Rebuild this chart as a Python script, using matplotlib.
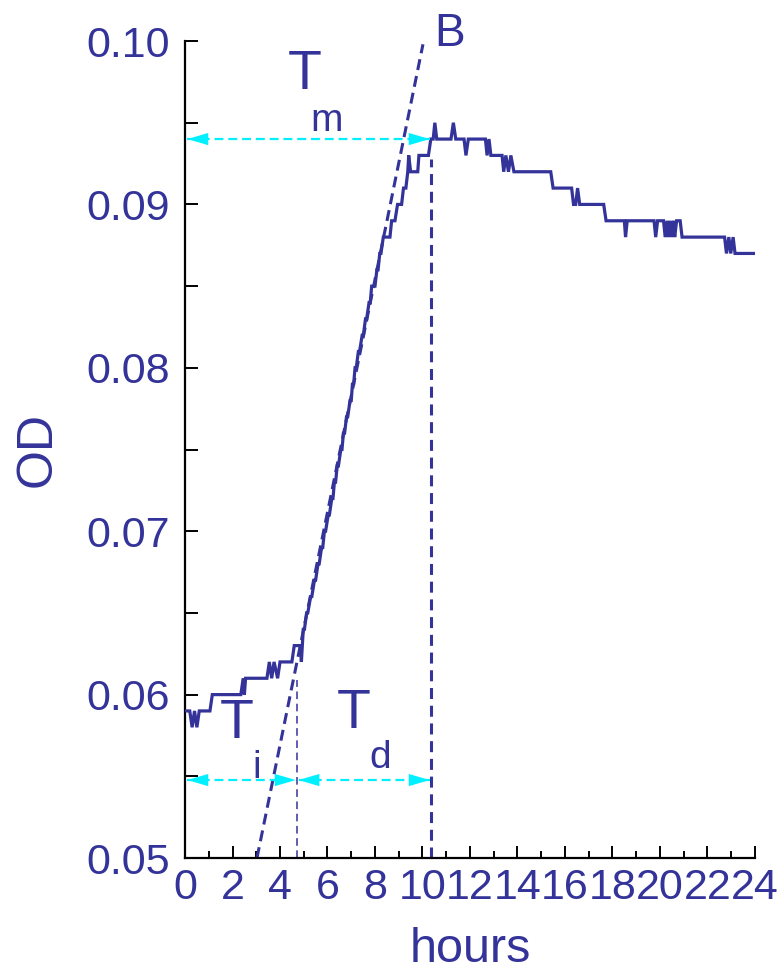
import matplotlib
matplotlib.use('Agg')
import matplotlib.pyplot as plt
from matplotlib.ticker import MultipleLocator, FormatStrFormatter

plt.rcParams['font.family'] = ['Liberation Sans', 'DejaVu Sans']

BLUE = '#333399'
CYAN = '#00f0ff'

# ---- measured OD readings (hours, OD) ----
hours = [0.0, 0.2, 0.3, 0.4, 0.5, 0.6, 1.05, 1.15, 2.35, 2.45, 2.5, 2.55,
         3.45, 3.55, 3.65, 3.75, 3.9, 4.0, 4.5, 4.6, 4.85, 4.9,
         4.98, 5.03, 5.12, 5.17, 5.29, 5.34, 5.45, 5.5, 5.6, 5.65, 5.75, 5.8,
         5.87, 5.92, 6.03, 6.08, 6.18, 6.23, 6.29, 6.34, 6.41, 6.46, 6.56, 6.61,
         6.67, 6.72, 6.8, 6.85, 6.95, 7.0, 7.05, 7.1, 7.16, 7.21, 7.3, 7.35,
         7.46, 7.51, 7.6, 7.65, 7.75, 7.8, 7.86, 8.0, 8.08, 8.13, 8.2, 8.25,
         8.35, 8.63, 8.7, 8.84, 8.95, 9.12, 9.2, 9.3, 9.38, 9.42, 9.5, 9.8,
         9.85, 10.25, 10.35, 10.45, 10.52, 10.6,
         11.2, 11.3, 11.4, 11.75, 11.83, 11.93, 12.65, 12.72, 12.8, 12.88,
         13.35, 13.42, 13.51, 13.62, 13.72, 13.85, 15.4, 15.5, 16.28, 16.36,
         16.45, 16.53, 16.62, 17.63, 17.73, 18.5, 18.55, 18.62, 19.75, 19.82,
         19.9, 20.15, 20.22, 20.3, 20.36, 20.43, 20.5, 20.57, 20.62, 20.7,
         20.85, 20.93, 22.72, 22.8, 22.9, 22.98, 23.08, 23.16, 23.95]
od = [0.059, 0.059, 0.058, 0.059, 0.058, 0.059, 0.059, 0.060, 0.060, 0.061, 0.060, 0.061,
      0.061, 0.062, 0.061, 0.062, 0.061, 0.062, 0.062, 0.063, 0.063, 0.062,
      0.064, 0.064, 0.065, 0.065, 0.066, 0.066, 0.067, 0.067, 0.068, 0.068, 0.069, 0.069,
      0.070, 0.070, 0.071, 0.071, 0.072, 0.072, 0.073, 0.073, 0.074, 0.074, 0.075, 0.075,
      0.076, 0.076, 0.077, 0.077, 0.078, 0.078, 0.079, 0.079, 0.080, 0.080, 0.081, 0.081,
      0.082, 0.082, 0.083, 0.083, 0.084, 0.084, 0.085, 0.085, 0.086, 0.086, 0.087, 0.087,
      0.088, 0.088, 0.089, 0.089, 0.090, 0.090, 0.091, 0.091, 0.092, 0.093, 0.092, 0.092,
      0.093, 0.093, 0.094, 0.094, 0.095, 0.094,
      0.094, 0.095, 0.094, 0.094, 0.093, 0.094, 0.094, 0.093, 0.094, 0.093,
      0.093, 0.092, 0.093, 0.092, 0.093, 0.092, 0.092, 0.091, 0.091, 0.090,
      0.090, 0.091, 0.090, 0.090, 0.089, 0.089, 0.088, 0.089, 0.089, 0.088,
      0.089, 0.089, 0.088, 0.089, 0.088, 0.089, 0.088, 0.089, 0.088, 0.089,
      0.089, 0.088, 0.088, 0.087, 0.088, 0.087, 0.088, 0.087, 0.087]

# tangent (max growth rate) line
tangent_t = [3.03, 10.02]
tangent_od = [0.050, 0.0998]

# phase markers (hours)
t_lag_end = 4.72      # end of Ti
t_max = 10.36         # time of maximum
t_start_arrow = 0.1
tm_level = 0.0940
ti_level = 0.05477

fig = plt.figure(figsize=(7.78, 9.77), dpi=100)
ax = fig.add_axes([0.2378, 0.1218, 0.7326, 0.8362])

ax.plot(hours, od, color=BLUE, lw=2.3, solid_joinstyle='miter', zorder=3)

# tangent line
ax.plot(tangent_t, tangent_od, color=BLUE, lw=2.2, ls=(0, (3.6, 2.0)), zorder=2)
# vertical markers
ax.plot([t_max, t_max], [0.050, 0.0928], color=BLUE, lw=2.2, ls=(0, (3.6, 2.2)), zorder=2)
ax.plot([t_lag_end, t_lag_end], [0.050, 0.0609], color=BLUE, lw=1.1, ls=(0, (5, 3)), zorder=2)

# cyan double arrows
def darrow(x0, x1, y):
    ax.plot([x0, x1], [y, y], color=CYAN, lw=1.6, ls=(0, (4, 2.2)), zorder=4)
    for a, b in ((x1, x0), (x0, x1)):
        d = 0.8 if b > a else -0.8
        ax.annotate('', xy=(a, y), xytext=(a + d, y),
                    arrowprops=dict(arrowstyle='-|>,head_length=0.75,head_width=0.22',
                                    color=CYAN, lw=0.01, shrinkA=0, shrinkB=0,
                                    mutation_scale=20), zorder=5)

darrow(t_start_arrow, t_max - 0.06, tm_level)
darrow(t_start_arrow, t_lag_end - 0.06, ti_level)
darrow(t_lag_end + 0.06, t_max - 0.06, ti_level)

# labels
ax.text(5.05, 0.09707, 'T', color=BLUE, fontsize=40, ha='center', va='baseline')
ax.text(5.98, 0.0945, 'm', color=BLUE, fontsize=28, ha='center', va='baseline')
ax.text(11.16, 0.0997, 'B', color=BLUE, fontsize=33, ha='center', va='baseline', clip_on=False)
ax.text(2.18, 0.05733, 'T', color=BLUE, fontsize=40, ha='center', va='baseline')
ax.text(3.03, 0.05489, 'i', color=BLUE, fontsize=28, ha='center', va='baseline')
ax.text(7.1, 0.05795, 'T', color=BLUE, fontsize=40, ha='center', va='baseline')
ax.text(8.2, 0.0555, 'd', color=BLUE, fontsize=28, ha='center', va='baseline')

ax.set_xlim(0, 24)
ax.set_ylim(0.05, 0.10)
for s in ('top', 'right'):
    ax.spines[s].set_visible(False)
for s in ('left', 'bottom'):
    ax.spines[s].set_linewidth(1.6)
    ax.spines[s].set_color('black')

ax.xaxis.set_major_locator(MultipleLocator(2))
ax.xaxis.set_minor_locator(MultipleLocator(1))
ax.yaxis.set_major_locator(MultipleLocator(0.01))
ax.yaxis.set_minor_locator(MultipleLocator(0.005))
ax.yaxis.set_major_formatter(FormatStrFormatter('%.2f'))
ax.tick_params(axis='both', which='both', direction='in', width=1.4, colors='black',
               labelcolor=BLUE, labelsize=31)
ax.tick_params(axis='x', which='major', length=9, pad=7)
ax.tick_params(axis='x', which='minor', length=5)
ax.tick_params(axis='y', which='both', length=9, pad=11)

ax.set_xlabel('hours', color=BLUE, fontsize=35, labelpad=14)
ax.set_ylabel('OD', color=BLUE, fontsize=36, labelpad=18)

fig.savefig('out.png', dpi=100)
